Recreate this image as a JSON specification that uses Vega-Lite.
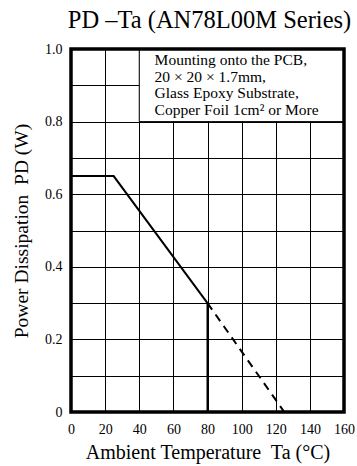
{
  "$schema": "https://vega.github.io/schema/vega-lite/v6.json",
  "autosize": {"type": "none"},
  "padding": {"left": 71, "top": 49, "right": 13, "bottom": 54},
  "width": 273,
  "height": 363,
  "background": "white",
  "config": {
    "view": {"stroke": null},
    "font": "Liberation Serif",
    "axis": {"grid": true, "gridColor": "black", "gridWidth": 1, "gridOpacity": 1, "ticks": false, "domain": false, "labelFont": "Liberation Serif", "labelFontSize": 14, "labelColor": "black", "labelFlush": false, "labelBound": false, "labelOverlap": false, "titleFont": "Liberation Serif", "titleFontWeight": "normal", "titleColor": "black", "titleBaseline": "alphabetic"},
    "axisX": {"labelPadding": 10, "titleFontSize": 20, "titleY": 46},
    "axisY": {"labelPadding": 9, "labelBaseline": "middle", "titleFontSize": 19.5, "titleX": -44, "titleAngle": 270}
  },
  "title": {"text": "PD –Ta (AN78L00M Series)", "font": "Liberation Serif", "fontSize": 24.5, "fontWeight": "normal", "color": "black", "anchor": "middle", "frame": "group", "baseline": "alphabetic", "offset": 16, "dx": 2, "dy": 26},
  "datasets": {
    "curve": [
      {"Ta": 0, "PD": 0.65, "part": "rated"},
      {"Ta": 25, "PD": 0.65, "part": "rated"},
      {"Ta": 80, "PD": 0.3, "part": "rated"},
      {"Ta": 80, "PD": 0.3, "part": "cutoff"},
      {"Ta": 80, "PD": 0, "part": "cutoff"},
      {"Ta": 80, "PD": 0.3, "part": "extended"},
      {"Ta": 125, "PD": 0, "part": "extended"}
    ],
    "note": [{"text": "Mounting onto the PCB,\n20 × 20 × 1.7mm,\nGlass Epoxy Substrate,\nCopper Foil 1cm² or More"}],
    "frame": [{"name": "frame"}]
  },
  "layer": [
    {
      "data": {"name": "note"},
      "mark": {"type": "rect", "fill": "white", "stroke": "black", "strokeWidth": 1},
      "encoding": {
        "x": {"datum": 40, "type": "quantitative",
          "scale": {"domain": [0, 160], "nice": false, "zero": false},
          "axis": {"values": [0, 20, 40, 60, 80, 100, 120, 140, 160], "title": "Ambient Temperature\u00a0 Ta (°C)"}},
        "x2": {"datum": 160},
        "y": {"datum": 0.8, "type": "quantitative",
          "scale": {"domain": [0, 1], "nice": false, "zero": false},
          "axis": {"values": [0, 0.1, 0.2, 0.3, 0.4, 0.5, 0.6, 0.7, 0.8, 0.9, 1.0], "labelExpr": "round(datum.value*10) % 2 ? '' : (datum.value == 0 ? '0' : format(datum.value, '.1f'))", "title": "Power Dissipation\u00a0 PD (W)"}},
        "y2": {"datum": 1.0}
      }
    },
    {
      "data": {"name": "curve"},
      "transform": [{"filter": "datum.part === 'rated'"}],
      "mark": {"type": "line", "color": "black", "strokeWidth": 2},
      "encoding": {
        "x": {"field": "Ta", "type": "quantitative", "axis": {"values": [0, 20, 40, 60, 80, 100, 120, 140, 160], "title": "Ambient Temperature\u00a0 Ta (°C)"}},
        "y": {"field": "PD", "type": "quantitative", "axis": {"values": [0, 0.1, 0.2, 0.3, 0.4, 0.5, 0.6, 0.7, 0.8, 0.9, 1.0], "labelExpr": "round(datum.value*10) % 2 ? '' : (datum.value == 0 ? '0' : format(datum.value, '.1f'))", "title": "Power Dissipation\u00a0 PD (W)"}}
      }
    },
    {
      "data": {"name": "curve"},
      "transform": [{"filter": "datum.part === 'cutoff'"}],
      "mark": {"type": "line", "color": "black", "strokeWidth": 2},
      "encoding": {
        "x": {"field": "Ta", "type": "quantitative", "axis": {"values": [0, 20, 40, 60, 80, 100, 120, 140, 160], "title": "Ambient Temperature\u00a0 Ta (°C)"}},
        "y": {"field": "PD", "type": "quantitative", "axis": {"values": [0, 0.1, 0.2, 0.3, 0.4, 0.5, 0.6, 0.7, 0.8, 0.9, 1.0], "labelExpr": "round(datum.value*10) % 2 ? '' : (datum.value == 0 ? '0' : format(datum.value, '.1f'))", "title": "Power Dissipation\u00a0 PD (W)"}}
      }
    },
    {
      "data": {"name": "curve"},
      "transform": [{"filter": "datum.part === 'extended'"}],
      "mark": {"type": "line", "color": "black", "strokeWidth": 2, "strokeDash": [8, 6]},
      "encoding": {
        "x": {"field": "Ta", "type": "quantitative", "axis": {"values": [0, 20, 40, 60, 80, 100, 120, 140, 160], "title": "Ambient Temperature\u00a0 Ta (°C)"}},
        "y": {"field": "PD", "type": "quantitative", "axis": {"values": [0, 0.1, 0.2, 0.3, 0.4, 0.5, 0.6, 0.7, 0.8, 0.9, 1.0], "labelExpr": "round(datum.value*10) % 2 ? '' : (datum.value == 0 ? '0' : format(datum.value, '.1f'))", "title": "Power Dissipation\u00a0 PD (W)"}}
      }
    },
    {
      "data": {"name": "note"},
      "mark": {"type": "text", "font": "Liberation Serif", "fontSize": 15.5, "color": "black", "align": "left", "baseline": "alphabetic", "lineBreak": "\n", "lineHeight": 16.7},
      "encoding": {
        "x": {"datum": 49, "type": "quantitative", "axis": {"values": [0, 20, 40, 60, 80, 100, 120, 140, 160], "title": "Ambient Temperature\u00a0 Ta (°C)"}},
        "y": {"datum": 0.956, "type": "quantitative", "axis": {"values": [0, 0.1, 0.2, 0.3, 0.4, 0.5, 0.6, 0.7, 0.8, 0.9, 1.0], "labelExpr": "round(datum.value*10) % 2 ? '' : (datum.value == 0 ? '0' : format(datum.value, '.1f'))", "title": "Power Dissipation\u00a0 PD (W)"}},
        "text": {"field": "text"}
      }
    },
    {
      "data": {"name": "frame"},
      "mark": {"type": "rect", "filled": false, "stroke": "black", "strokeWidth": 3.5},
      "encoding": {
        "x": {"datum": 0, "type": "quantitative", "axis": {"values": [0, 20, 40, 60, 80, 100, 120, 140, 160], "title": "Ambient Temperature\u00a0 Ta (°C)"}},
        "x2": {"datum": 160},
        "y": {"datum": 0, "type": "quantitative", "axis": {"values": [0, 0.1, 0.2, 0.3, 0.4, 0.5, 0.6, 0.7, 0.8, 0.9, 1.0], "labelExpr": "round(datum.value*10) % 2 ? '' : (datum.value == 0 ? '0' : format(datum.value, '.1f'))", "title": "Power Dissipation\u00a0 PD (W)"}},
        "y2": {"datum": 1}
      }
    }
  ]
}
